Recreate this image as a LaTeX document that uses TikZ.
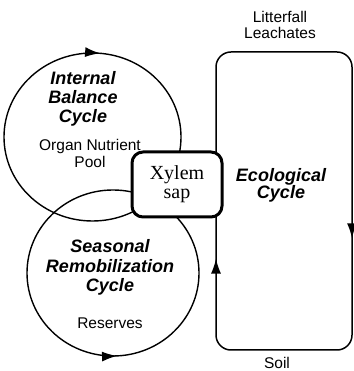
\documentclass[tikz,border=0pt]{standalone}
\usepackage{fontspec}
\setmainfont{Liberation Sans}
\newfontfamily\serifx{Liberation Serif}
\usetikzlibrary{arrows.meta,decorations.markings}
\begin{document}
\begin{tikzpicture}[x=1pt,y=1pt,
  cyc/.style={line width=1.4pt},
  title/.style={inner sep=0pt,align=center,font=\fontsize{18}{19}\selectfont\bfseries\itshape},
  lab/.style={inner sep=0pt,align=center,font=\fontsize{15.5}{17}\selectfont},
  xbox/.style={draw,fill=white,line width=3pt,rounded corners=11pt,minimum width=90pt,minimum height=65pt,inner sep=0pt,align=center,font=\serifx\fontsize{20}{19}\selectfont}]
\useasboundingbox (0,0) rectangle (353,371);
% internal balance cycle
\draw[cyc,postaction={decorate},decoration={markings,mark=at position 0.236 with {\arrowreversed{Latex[length=15pt,width=10pt]}}}]
  (92.5,234) ellipse [x radius=88.5,y radius=84];
% seasonal remobilization cycle
\draw[cyc,postaction={decorate},decoration={markings,mark=at position 0.7575 with {\arrow{Latex[length=15pt,width=10pt]}}}]
  (113,98) ellipse [x radius=86,y radius=83];
% ecological cycle
\draw[line width=1.5pt,rounded corners=15pt,postaction={decorate},decoration={markings,
    mark=at position 138pt with {\arrow{Latex[length=15pt,width=10pt]}},
    mark=at position 654pt with {\arrow{Latex[length=15pt,width=10pt]}}}]
  (284,21) -- (216,21) -- (216,319) -- (352,319) -- (352,21) -- cycle;
% xylem
\node[xbox] (xylem) at (177,186.5) {Xylem\\sap};
% texts
\node[title] (ibc) at (83,272) {Internal\\Balance\\Cycle};
\node[lab] (pool) at (90,217.5) {Organ Nutrient\\Pool};
\node[title,font=\fontsize{18}{19.5}\selectfont\bfseries\itshape] (src) at (110,103.5) {Seasonal\\Remobilization\\Cycle};
\node[lab] (res) at (110,48) {Reserves};
\node[title,font=\fontsize{18}{17}\selectfont\bfseries\itshape] (eco) at (281,186) {Ecological\\Cycle};
\node[lab,font=\fontsize{15.5}{16}\selectfont] (lit) at (280,346) {Litterfall\\Leachates};
\node[lab] (soil) at (277,8) {Soil};
\end{tikzpicture}
\end{document}
